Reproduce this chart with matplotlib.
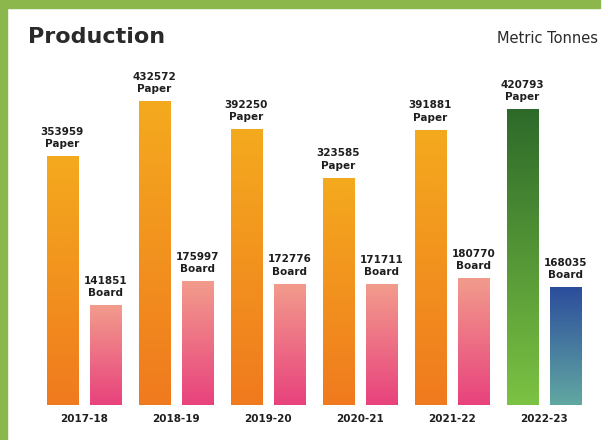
import numpy as np
import matplotlib
matplotlib.use("Agg")
import matplotlib.pyplot as plt
from matplotlib.colors import LinearSegmentedColormap
from matplotlib.patches import Rectangle

# Datos (toneladas métricas)
anios = ["2017-18", "2018-19", "2019-20", "2020-21", "2021-22", "2022-23"]
papel = [353959, 432572, 392250, 323585, 391881, 420793]
carton = [141851, 175997, 172776, 171711, 180770, 168035]

# colores (abajo, arriba) del degradado
col_papel = [("#f07a1e", "#f4aa1e")] * 5 + [("#7cc243", "#2d6a2a")]
col_carton = [("#e8427d", "#f29c8c")] * 5 + [("#62a8a2", "#2b4c9c")]

W, H = 608, 440
fig = plt.figure(figsize=(W / 100, H / 100), dpi=100)
fig.patch.set_facecolor("white")

# marco verde
fig.patches.append(Rectangle((0, 1 - 8 / H), 600 / W, 8 / H, transform=fig.transFigure,
                             color="#8cb74c", zorder=0))
fig.patches.append(Rectangle((0, 0), 7 / W, 1, transform=fig.transFigure,
                             color="#8cb74c", zorder=0))

ax = fig.add_axes([0, 35 / H, 1, 355 / H])
ax.set_facecolor("none")
for s in ax.spines.values():
    s.set_visible(False)
ax.set_xticks([])
ax.set_yticks([])

x = np.arange(len(anios))
ancho = 0.34
desp = 0.235
xlim = (-84 / 92, (W - 84) / 92)
ylim = (0, 355 * 1423)

grad = np.linspace(0, 1, 256).reshape(-1, 1)


def barra_degradado(xc, valor, colores):
    b = ax.bar(xc, valor, width=ancho, color="none", edgecolor="none")[0]
    cmap = LinearSegmentedColormap.from_list("g", list(colores))
    im = ax.imshow(grad, cmap=cmap, aspect="auto", origin="lower",
                   extent=(xc - ancho / 2, xc + ancho / 2, 0, valor), zorder=2)
    im.set_clip_path(b)


estilo = dict(textcoords="offset points", ha="center", fontsize=7.5,
              fontweight="bold", color="#1e1e1e")

for i in range(len(anios)):
    barra_degradado(x[i] - desp, papel[i], col_papel[i])
    barra_degradado(x[i] + desp, carton[i], col_carton[i])
    ax.annotate(f"{papel[i]}\nPaper", (x[i] - desp, papel[i]), xytext=(0, 5),
                va="bottom", linespacing=1.3, **estilo)
    ax.annotate(f"{carton[i]}\nBoard", (x[i] + desp, carton[i]), xytext=(0, 5),
                va="bottom", linespacing=1.3, **estilo)
    ax.annotate(anios[i], (x[i], 0), xytext=(0, -10), va="center", **estilo)

ax.set_xlim(*xlim)
ax.set_ylim(*ylim)

fig.text(28 / W, 1 - 37 / H, "Production", fontsize=16, fontweight="bold",
         color="#2a2a2a", va="center", ha="left")
fig.text(598 / W, 1 - 38 / H, "Metric Tonnes", fontsize=10.5, color="#2a2a2a",
         va="center", ha="right")

fig.savefig("out.png", dpi=100)
